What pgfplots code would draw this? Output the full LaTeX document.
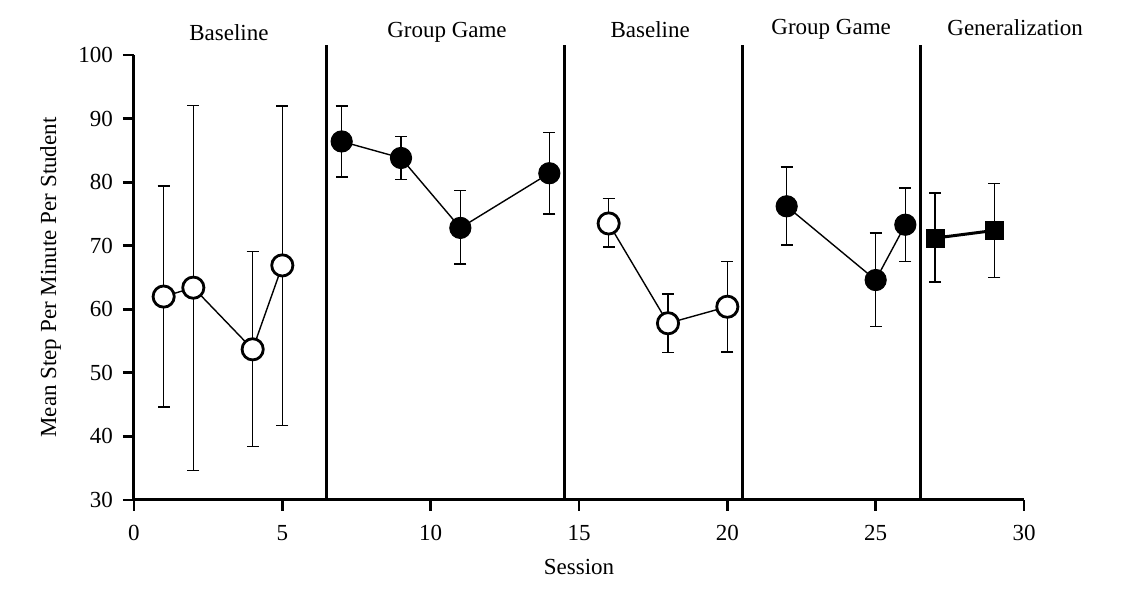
\documentclass[border=0pt]{standalone}
\usepackage{pgfplots}
\pgfplotsset{compat=1.18}
\usepackage{pgfplotstable}
\usepackage{fontspec}
\setmainfont{Liberation Serif}
\pgfplotstableread{
x y ep em
1 62.0 17.4 17.4
2 63.4 28.7 28.8
4 53.7 15.4 15.3
5 66.9 25.1 25.2
}\baseA
\pgfplotstableread{
x y ep em
7 86.4 5.6 5.6
9 83.8 3.4 3.4
11 72.8 5.9 5.7
14 81.4 6.4 6.4
}\gameA
\pgfplotstableread{
x y ep em
16 73.5 3.9 3.7
18 57.8 4.6 4.6
20 60.4 7.1 7.1
}\baseB
\pgfplotstableread{
x y ep em
22 76.2 6.2 6.1
25 64.6 7.4 7.3
26 73.3 5.8 5.8
}\gameB
\pgfplotstableread{
x y ep em
27 71.2 7.1 6.9
29 72.4 7.4 7.4
}\gen
\begin{document}
\fontsize{11.5}{13}\selectfont
\begin{tikzpicture}
\useasboundingbox (-67pt,-54pt) rectangle (505pt,250pt);
\begin{axis}[
  at={(0,0)}, anchor=south west,
  scale only axis, width=445pt, height=222.5pt,
  xmin=0, xmax=30, ymin=30, ymax=100,
  xtick={0,5,...,30}, ytick={30,40,...,100},
  axis x line*=bottom, axis y line*=left,
  axis line style={line width=1.5pt, -},
  tick style={line width=1.4pt, black},
  tick align=outside, major tick length=5.5pt,
  clip=false,
  xlabel={Session}, ylabel={Mean Step Per Minute Per Student},
  xlabel style={at={(axis description cs:0.5,0)}, anchor=north, yshift=-25.5pt},
  ylabel style={at={(axis description cs:-0.073,0.5)}, anchor=south, rotate=0},
  tick label style={font=\fontsize{11.5}{13}\selectfont},
  label style={font=\fontsize{11.5}{13}\selectfont},
  xticklabel style={yshift=-3pt},
  yticklabel style={xshift=-1pt},
  /pgf/number format/assume math mode=true,
  error bars/y dir=both, error bars/y explicit,
  error bars/error bar style={line width=0.7pt, black},
  error bars/error mark options={rotate=90, mark size=3pt, line width=0.7pt, black},
]
\foreach \xx in {6.5,14.5,20.5,26.5}{
  \edef\tmp{\noexpand\addplot[black, line width=1.4pt, forget plot] coordinates {(\xx,30) (\xx,101.5)};}
  \tmp
}
\addplot[black, line width=0.7pt, mark=*, mark size=5.3pt, mark options={fill=white, line width=1.4pt}]
  table[x=x, y=y, y error plus=ep, y error minus=em] {\baseA};
\addplot[black, line width=0.7pt, mark=*, mark size=5.3pt, mark options={fill=black, line width=0.5pt}]
  table[x=x, y=y, y error plus=ep, y error minus=em] {\gameA};
\addplot[black, line width=0.7pt, mark=*, mark size=5.3pt, mark options={fill=white, line width=1.4pt}]
  table[x=x, y=y, y error plus=ep, y error minus=em] {\baseB};
\addplot[black, line width=0.7pt, mark=*, mark size=5.3pt, mark options={fill=black, line width=0.5pt}]
  table[x=x, y=y, y error plus=ep, y error minus=em] {\gameB};
\addplot[black, line width=1.5pt, mark=square*, mark size=4.5pt, mark options={fill=black, line width=0.5pt}]
  table[x=x, y=y, y error plus=ep, y error minus=em] {\gen};
\node at (axis cs:3.2,103.5) {Baseline};
\node at (axis cs:10.55,103.5) {Group Game};
\node at (axis cs:17.4,104.0) {Baseline};
\node at (axis cs:23.5,104.0) {Group Game};
\node at (axis cs:29.7,104.3) {Generalization};
\end{axis}
\end{tikzpicture}
\end{document}
